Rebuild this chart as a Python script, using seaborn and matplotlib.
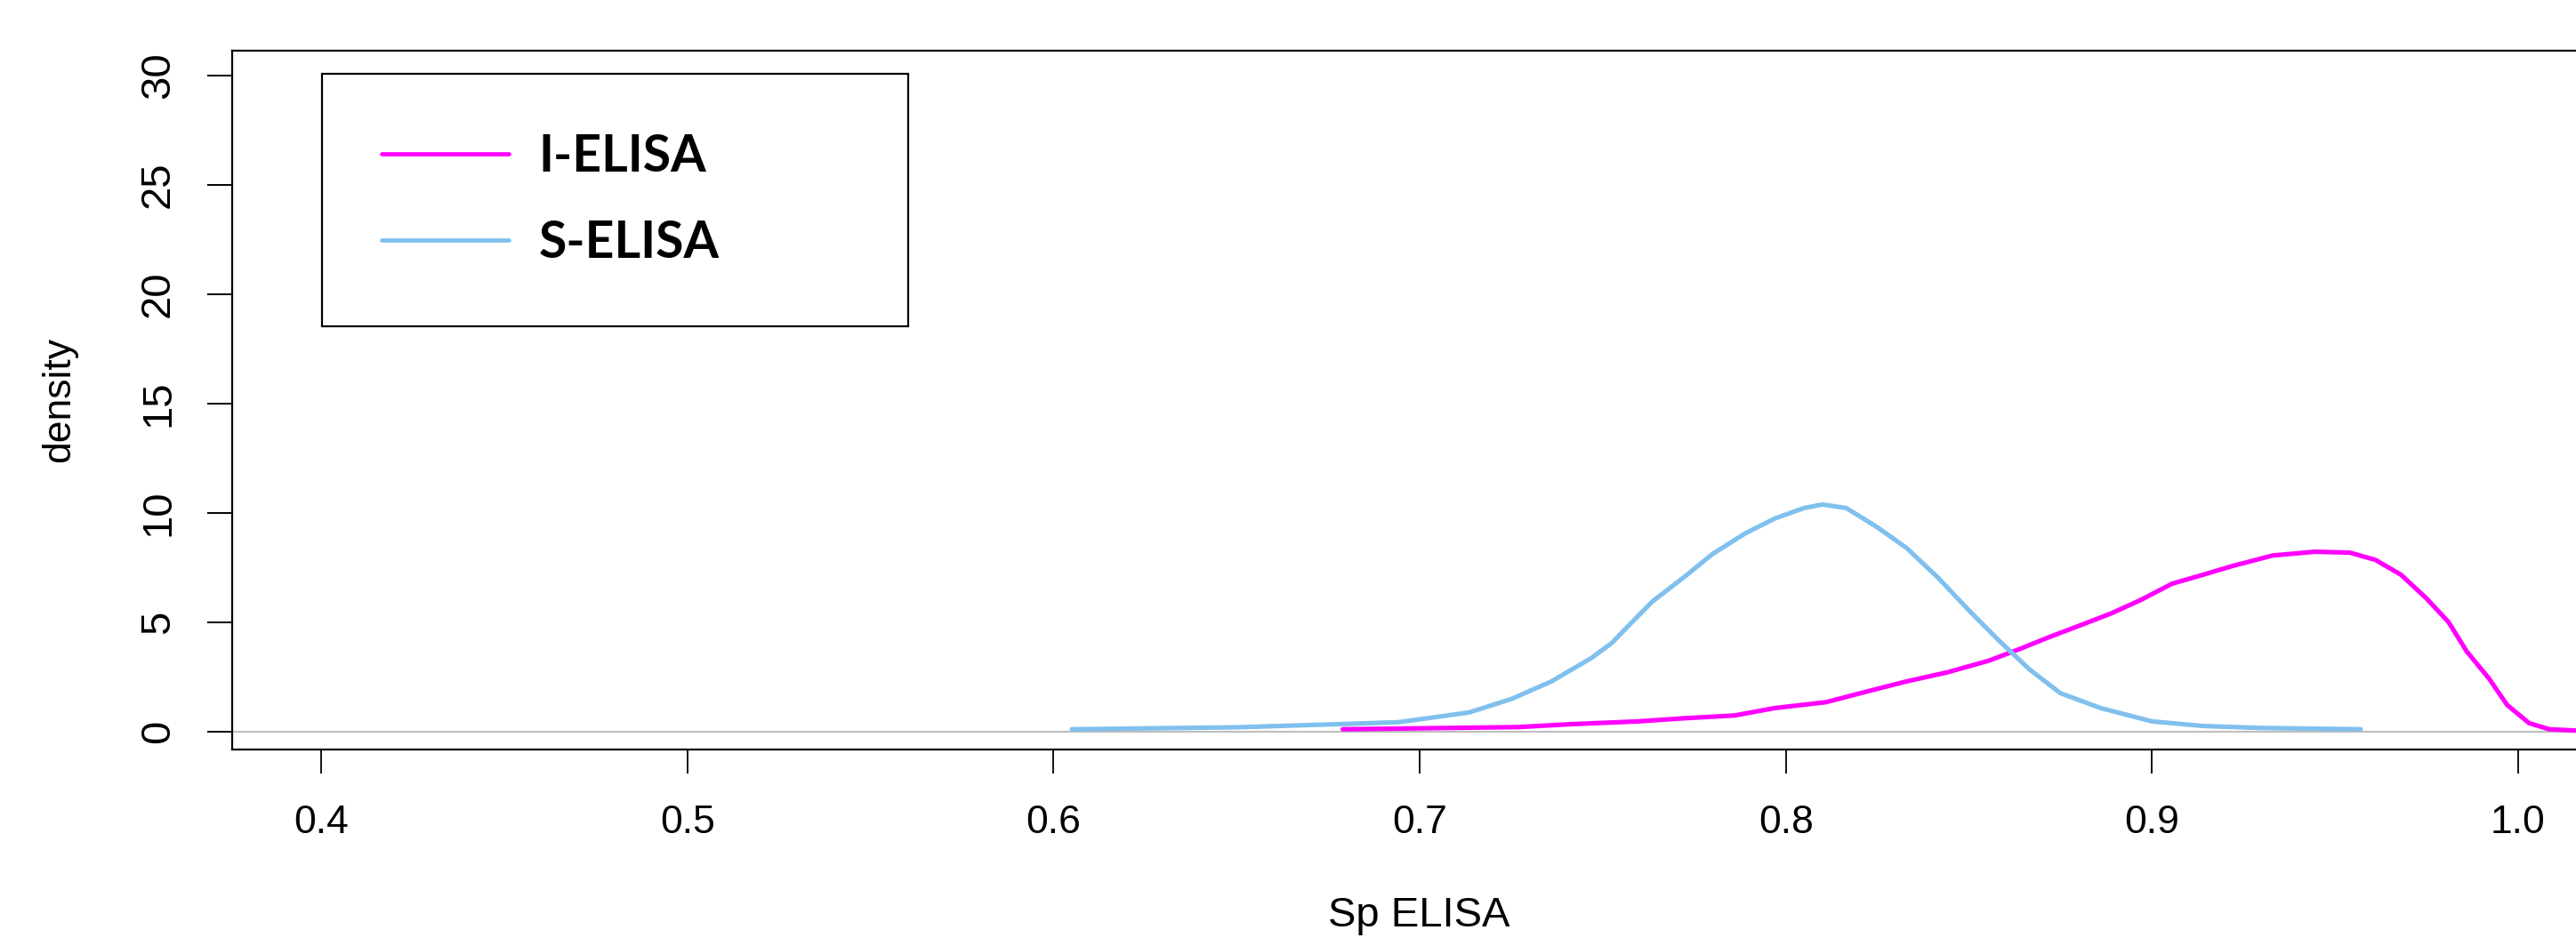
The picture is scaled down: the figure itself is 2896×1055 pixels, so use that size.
import numpy as np
import pandas as pd
import matplotlib
matplotlib.use("Agg")
import matplotlib.pyplot as plt
import seaborn as sns

# ---- data ----
s_elisa_x = [0.605, 0.650, 0.677, 0.694, 0.702, 0.7135, 0.725, 0.736, 0.747, 0.7525,
             0.758, 0.7636, 0.772, 0.780, 0.789, 0.797, 0.805, 0.810, 0.8165, 0.825,
             0.833, 0.8416, 0.850, 0.858, 0.8666, 0.875, 0.886, 0.900, 0.914, 0.9295, 0.957]
s_elisa_y = [0.10, 0.19, 0.33, 0.42, 0.60, 0.87, 1.48, 2.29, 3.37, 4.05,
             5.00, 5.95, 7.03, 8.12, 9.07, 9.74, 10.22, 10.38, 10.22, 9.34,
             8.39, 7.03, 5.54, 4.19, 2.83, 1.75, 1.07, 0.46, 0.25, 0.16, 0.10]

i_elisa_x = [0.679, 0.727, 0.741, 0.7595, 0.772, 0.786, 0.797, 0.811, 0.822, 0.833,
             0.844, 0.8555, 0.864, 0.872, 0.8805, 0.889, 0.897, 0.9055, 0.914, 0.922,
             0.933, 0.9445, 0.954, 0.961, 0.968, 0.975, 0.981, 0.986, 0.992, 0.997,
             1.003, 1.0085, 1.017]
i_elisa_y = [0.10, 0.20, 0.33, 0.46, 0.60, 0.73, 1.07, 1.34, 1.82, 2.29,
             2.70, 3.24, 3.78, 4.32, 4.86, 5.41, 6.02, 6.76, 7.17, 7.57,
             8.05, 8.22, 8.18, 7.85, 7.17, 6.08, 5.00, 3.65, 2.43, 1.21,
             0.38, 0.10, 0.03]

series_names = ["I-ELISA", "S-ELISA"]
series_colors = ["#FF00FF", "#80C0EE"]
x_ticks = [0.4, 0.5, 0.6, 0.7, 0.8, 0.9, 1.0]
x_tick_labels = ["0.4", "0.5", "0.6", "0.7", "0.8", "0.9", "1.0"]
y_ticks = [0, 5, 10, 15, 20, 25, 30]
x_label = "Sp ELISA"
y_label = "density"

df = pd.concat([
    pd.DataFrame({"x": i_elisa_x, "y": i_elisa_y, "series": series_names[0]}),
    pd.DataFrame({"x": s_elisa_x, "y": s_elisa_y, "series": series_names[1]}),
], ignore_index=True)

# ---- style ----
sns.set_style("white")
plt.rcParams["font.family"] = ["Liberation Sans", "DejaVu Sans"]
plt.rcParams["text.color"] = "black"
plt.rcParams["axes.labelcolor"] = "black"
plt.rcParams["xtick.color"] = "black"
plt.rcParams["ytick.color"] = "black"

W, H = 2896, 1055
fig = plt.figure(figsize=(W / 100, H / 100), dpi=100)
left_px, right_px, top_px, bottom_px = 261, 2931, 57, 843
ax = fig.add_axes([left_px / W, 1 - bottom_px / H,
                   (right_px - left_px) / W, (bottom_px - top_px) / H])

ax.axhline(0, color="#BEBEBE", lw=1.5, zorder=1)
sns.lineplot(data=df, x="x", y="y", hue="series", palette=series_colors,
             hue_order=series_names, sort=False, estimator=None,
             lw=3.7, ax=ax, zorder=3)

ax.set_xlim(0.3757, 1.0243)
ax.set_ylim(-0.826, 31.14)
ax.set_xticks(x_ticks)
ax.set_xticklabels(x_tick_labels)
ax.set_yticks(y_ticks)
ax.set_yticklabels([str(v) for v in y_ticks], rotation=90, va="center")

ax.tick_params(axis="x", direction="out", length=19.4, width=1.3, pad=25,
               labelsize=32, colors="black", bottom=True)
ax.tick_params(axis="y", direction="out", length=20, width=1.4, pad=24,
               labelsize=34, colors="black", left=True)

for side, sp in ax.spines.items():
    sp.set_color("black")
    sp.set_linewidth(1.6)
ax.spines["right"].set_visible(False)

ax.set_xlabel(x_label, fontsize=34, labelpad=0, color="black")
ax.set_ylabel(y_label, fontsize=32, labelpad=0, color="black")
ax.xaxis.set_label_coords((1595 - left_px) / (right_px - left_px),
                          -(1030 - bottom_px) / (bottom_px - top_px))
ax.yaxis.set_label_coords(-(left_px - 67) / (right_px - left_px), 0.5)
ax.xaxis.label.set_va("center")
ax.yaxis.label.set_va("center")

# legend placed in pixel box (362..1021, 83..367)
lx0, lx1, ly0, ly1 = 362, 1021, 83, 367
bx = (lx0 - left_px) / (right_px - left_px)
bw = (lx1 - lx0) / (right_px - left_px)
by_top = (bottom_px - ly0) / (bottom_px - top_px)
bh = (ly1 - ly0) / (bottom_px - top_px)
leg = ax.legend(loc="upper left", bbox_to_anchor=(bx, by_top - bh, bw, bh),
                mode="expand", borderaxespad=0, frameon=True, fancybox=False,
                prop={"family": ["Lato", "DejaVu Sans"], "weight": "bold", "size": 41},
                handlelength=2.5, handletextpad=0.6, borderpad=1.18,
                labelspacing=0.77)
frame = leg.get_frame()
frame.set_edgecolor("black")
frame.set_linewidth(1.6)
frame.set_alpha(1)
for t in leg.get_texts():
    t.set_color("black")
for line in leg.get_lines():
    line.set_linewidth(3.4)

fig.savefig("out.png", dpi=100, facecolor="white")
